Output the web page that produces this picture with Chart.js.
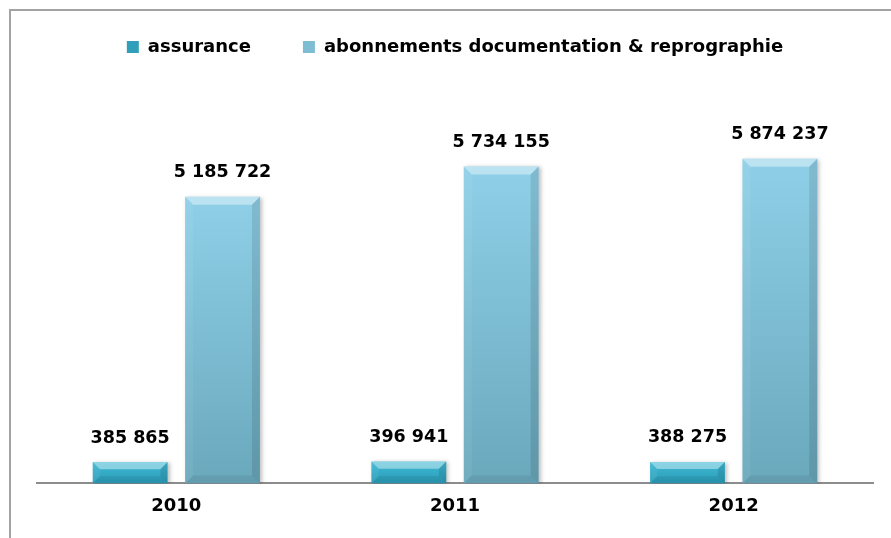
<!DOCTYPE html>
<html>
<head>
<meta charset="utf-8">
<title>assurance / abonnements</title>
<script src="https://cdn.jsdelivr.net/npm/chart.js@4.4.0/dist/chart.umd.min.js"></script>
<style>
  body { margin: 0; background: #fff; }
  #wrap { position: relative; width: 891px; height: 538px; overflow: hidden; }
  #frame { position: absolute; left: 9px; top: 9px; width: 1000px; height: 1000px;
           border-left: 2px solid #a3a3a3; border-top: 2px solid #a3a3a3; }
  canvas { position: absolute; left: 0; top: 0; }
</style>
</head>
<body>
<div id="wrap">
  <div id="frame"></div>
  <canvas id="chart" width="891" height="538"></canvas>
</div>
<script>
// data
const years = ["2010", "2011", "2012"];
const assurance = [385865, 396941, 388275];
const abonnements = [5185722, 5734155, 5874237];
const seriesNames = ["assurance", "abonnements documentation & reprographie"];
const legendColors = ["#2f9fba", "#7fbdd3"];

const fontFamily = '"DejaVu Sans", sans-serif';

// 5185722 -> "5 185 722"
function fmt(v) {
  return v.toString().replace(/\B(?=(\d{3})+(?!\d))/g, " ");
}

// vertical gradient for one bar, from its top to the base line
function barFill(topColor, bottomColor) {
  return function (ctx) {
    const chart = ctx.chart;
    const area = chart.chartArea;
    if (!area || ctx.raw === undefined) return topColor;
    const yTop = chart.scales.y.getPixelForValue(ctx.raw);
    const g = chart.ctx.createLinearGradient(0, yTop, 0, area.bottom);
    g.addColorStop(0, topColor);
    g.addColorStop(1, bottomColor);
    return g;
  };
}

function poly(c, pts, color) {
  c.beginPath();
  c.moveTo(pts[0][0], pts[0][1]);
  for (let k = 1; k < pts.length; k++) c.lineTo(pts[k][0], pts[k][1]);
  c.closePath();
  c.fillStyle = color;
  c.fill();
}

// shadow + bevel look of the bars, and the value labels above them
const bevelPlugin = {
  id: "bevel",
  beforeDatasetsDraw(chart) {
    const c = chart.ctx;
    c.save();
    c.shadowColor = "rgba(0,0,0,0.25)";
    c.shadowBlur = 4;
    c.shadowOffsetX = 2;
    c.shadowOffsetY = 1;
  },
  afterDatasetsDraw(chart) {
    const c = chart.ctx;
    c.restore();
    chart.data.datasets.forEach((ds, i) => {
      chart.getDatasetMeta(i).data.forEach((bar, j) => {
        const l = bar.x - bar.width / 2;
        const r = bar.x + bar.width / 2;
        const t = bar.y;
        const b = bar.base;
        const d = Math.min(8, (b - t) / 3);
        poly(c, [[l, t], [r, t], [r - d, t + d], [l + d, t + d]], "rgba(255,255,255,0.4)");
        poly(c, [[l, t], [l + d, t + d], [l + d, b - d], [l, b]], "rgba(255,255,255,0.06)");
        poly(c, [[r, t], [r - d, t + d], [r - d, b - d], [r, b]], "rgba(0,0,0,0.1)");
        poly(c, [[l, b], [l + d, b - d], [r - d, b - d], [r, b]], "rgba(0,0,0,0.07)");

        c.fillStyle = "#000";
        c.font = "bold 17.5px " + fontFamily;
        c.textAlign = "center";
        c.textBaseline = "middle";
        c.fillText(fmt(ds.data[j]), bar.x, t - 24);
      });
    });
  }
};

new Chart(document.getElementById("chart"), {
  type: "bar",
  data: {
    labels: years,
    datasets: [
      {
        label: seriesNames[0],
        data: assurance,
        backgroundColor: barFill("#3fb9d4", "#2b9cb8"),
        borderWidth: 0,
        categoryPercentage: 0.663,
        barPercentage: 0.81
      },
      {
        label: seriesNames[1],
        data: abonnements,
        backgroundColor: barFill("#8fd0e8", "#6aa8bc"),
        borderWidth: 0,
        categoryPercentage: 0.663,
        barPercentage: 0.81
      }
    ]
  },
  options: {
    responsive: false,
    animation: false,
    devicePixelRatio: 1,
    layout: {
      padding: { top: -14, left: 37, right: 18, bottom: 9 }
    },
    plugins: {
      tooltip: { enabled: false },
      legend: {
        position: "top",
        labels: {
          color: "#000",
          font: { family: fontFamily, size: 18, weight: "bold" },
          boxWidth: 12,
          boxHeight: 12,
          padding: 52,
          generateLabels(chart) {
            const items = Chart.defaults.plugins.legend.labels.generateLabels(chart);
            items.forEach((it, k) => {
              it.fillStyle = legendColors[k];
              it.strokeStyle = legendColors[k];
              it.lineWidth = 0;
            });
            return items;
          }
        }
      }
    },
    scales: {
      x: {
        grid: { display: false, drawTicks: false },
        border: { display: true, color: "#8c8c8c", width: 2 },
        ticks: {
          color: "#000",
          padding: 12,
          font: { family: fontFamily, size: 18, weight: "bold" }
        }
      },
      y: {
        display: false,
        min: 0,
        max: 7550000
      }
    }
  },
  plugins: [bevelPlugin]
});
</script>
</body>
</html>
